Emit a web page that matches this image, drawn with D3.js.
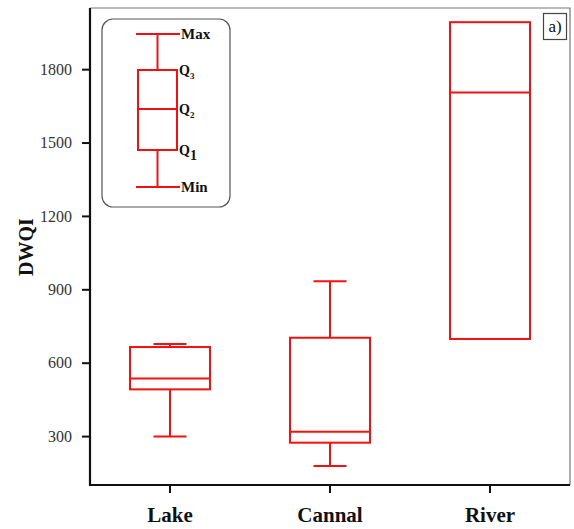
<!DOCTYPE html>
<html>
<head>
<meta charset="utf-8">
<script src="https://cdn.jsdelivr.net/npm/d3@7"></script>
<style>
  html, body { margin: 0; padding: 0; background: #fff; }
  svg { display: block; }
</style>
</head>
<body>
<svg id="chart" width="574" height="529"></svg>
<script>
const categories = ["Lake", "Cannal", "River"];
const minValues    = [298, 178, 697];
const q1Values     = [491, 273, 697];
const medianValues = [535, 318, 1705];
const q3Values     = [664, 702, 1992];
const maxValues    = [676, 933, 1992];
const yTicks = [300, 600, 900, 1200, 1500, 1800];
const yLabel = "DWQI";
const panelLabel = "a)";

const svg = d3.select("#chart");
const m = { left: 90, right: 570, top: 8, bottom: 485 };
const RED = "#f21010";
const FONT = "'Liberation Serif', 'Times New Roman', serif";

const x = d3.scaleBand().domain(categories).range([m.left, m.right]).padding(0);
const y = d3.scaleLinear().domain([100, 2050]).range([m.bottom, m.top]);

// frame top/right
svg.append("path")
  .attr("d", `M${m.left},${m.top}H${m.right}V${m.bottom}`)
  .attr("fill", "none").attr("stroke", "#777").attr("stroke-width", 1.2);

// axes
const yAxis = svg.append("g").attr("transform", `translate(${m.left},0)`)
  .call(d3.axisLeft(y).tickValues(yTicks).tickFormat(d3.format("d")).tickSize(8).tickPadding(10).tickSizeOuter(0));
const xAxis = svg.append("g").attr("transform", `translate(0,${m.bottom})`)
  .call(d3.axisBottom(x).tickSize(8).tickPadding(14).tickSizeOuter(0));
[yAxis, xAxis].forEach(g => {
  g.attr("font-family", FONT).attr("font-size", null);
  g.select(".domain").remove();
  g.selectAll(".tick line").attr("stroke", "#111").attr("stroke-width", 2);
});
yAxis.selectAll(".tick text").style("font-family", FONT).style("font-size", "16px").attr("fill", "#333");
xAxis.selectAll(".tick text").style("font-family", FONT).style("font-size", "21px")
  .style("font-weight", "bold").attr("fill", "#111");
svg.append("path")
  .attr("d", `M${m.left},${m.top}V${m.bottom}H${m.right}`)
  .attr("fill", "none").attr("stroke", "#111").attr("stroke-width", 2.2);

// y label
svg.append("text")
  .attr("transform", `translate(33,247) rotate(-90)`)
  .attr("text-anchor", "middle")
  .style("font-family", FONT).style("font-size", "20px").style("font-weight", "bold")
  .attr("fill", "#111").text(yLabel);

// boxes
const data = categories.map((c, i) => ({
  c, min: minValues[i], q1: q1Values[i], med: medianValues[i], q3: q3Values[i], max: maxValues[i]
}));
const bw = x.bandwidth() / 2;
const cw = 33;
const g = svg.append("g").attr("stroke", RED).attr("stroke-width", 2).attr("fill", "none");
data.forEach(d => {
  const cx = x(d.c) + x.bandwidth() / 2;
  if (d.max > d.q3) {
    g.append("line").attr("x1", cx).attr("x2", cx).attr("y1", y(d.max)).attr("y2", y(d.q3));
    g.append("line").attr("x1", cx - cw / 2).attr("x2", cx + cw / 2).attr("y1", y(d.max)).attr("y2", y(d.max));
  }
  if (d.min < d.q1) {
    g.append("line").attr("x1", cx).attr("x2", cx).attr("y1", y(d.q1)).attr("y2", y(d.min));
    g.append("line").attr("x1", cx - cw / 2).attr("x2", cx + cw / 2).attr("y1", y(d.min)).attr("y2", y(d.min));
  }
  g.append("rect").attr("x", cx - bw / 2).attr("width", bw)
    .attr("y", y(d.q3)).attr("height", y(d.q1) - y(d.q3));
  g.append("line").attr("x1", cx - bw / 2).attr("x2", cx + bw / 2).attr("y1", y(d.med)).attr("y2", y(d.med));
});

// legend key
const lg = svg.append("g");
lg.append("rect").attr("x", 102).attr("y", 19).attr("width", 128).attr("height", 188)
  .attr("rx", 11).attr("fill", "none").attr("stroke", "#555").attr("stroke-width", 1.2);
const lk = lg.append("g").attr("stroke", RED).attr("stroke-width", 2).attr("fill", "none");
const L = { cx: 157.5, max: 34, q3: 70, q2: 109, q1: 150, min: 187 };
lk.append("line").attr("x1", 136).attr("x2", 180).attr("y1", L.max).attr("y2", L.max);
lk.append("line").attr("x1", 136).attr("x2", 180).attr("y1", L.min).attr("y2", L.min);
lk.append("line").attr("x1", L.cx).attr("x2", L.cx).attr("y1", L.max).attr("y2", L.q3);
lk.append("line").attr("x1", L.cx).attr("x2", L.cx).attr("y1", L.q1).attr("y2", L.min);
lk.append("rect").attr("x", 138).attr("y", L.q3).attr("width", 39).attr("height", L.q1 - L.q3);
lk.append("line").attr("x1", 138).attr("x2", 177).attr("y1", L.q2).attr("y2", L.q2);
const lt = lg.append("g").style("font-family", FONT).style("font-weight", "bold").attr("fill", "#111");
lt.append("text").attr("x", 181).attr("y", L.max + 5).style("font-size", "15px").text("Max");
lt.append("text").attr("x", 181).attr("y", L.min + 5).style("font-size", "15px").text("Min");
[["3", L.q3, "9px", 4], ["2", L.q2, "9px", 4], ["1", L.q1, "14px", 5]].forEach(([s, yy, ss, dy]) => {
  const t = lt.append("text").attr("x", 179).attr("y", yy + 5).style("font-size", "14px");
  t.append("tspan").text("Q");
  t.append("tspan").style("font-size", ss).attr("dy", dy).text(s);
});

// panel label
svg.append("rect").attr("x", 543.5).attr("y", 13.5).attr("width", 23).attr("height", 26)
  .attr("fill", "#fff").attr("stroke", "#444").attr("stroke-width", 1.2);
svg.append("text").attr("x", 555).attr("y", 32).attr("text-anchor", "middle")
  .style("font-family", FONT).style("font-size", "17px").attr("fill", "#111").text(panelLabel);
</script>
</body>
</html>
